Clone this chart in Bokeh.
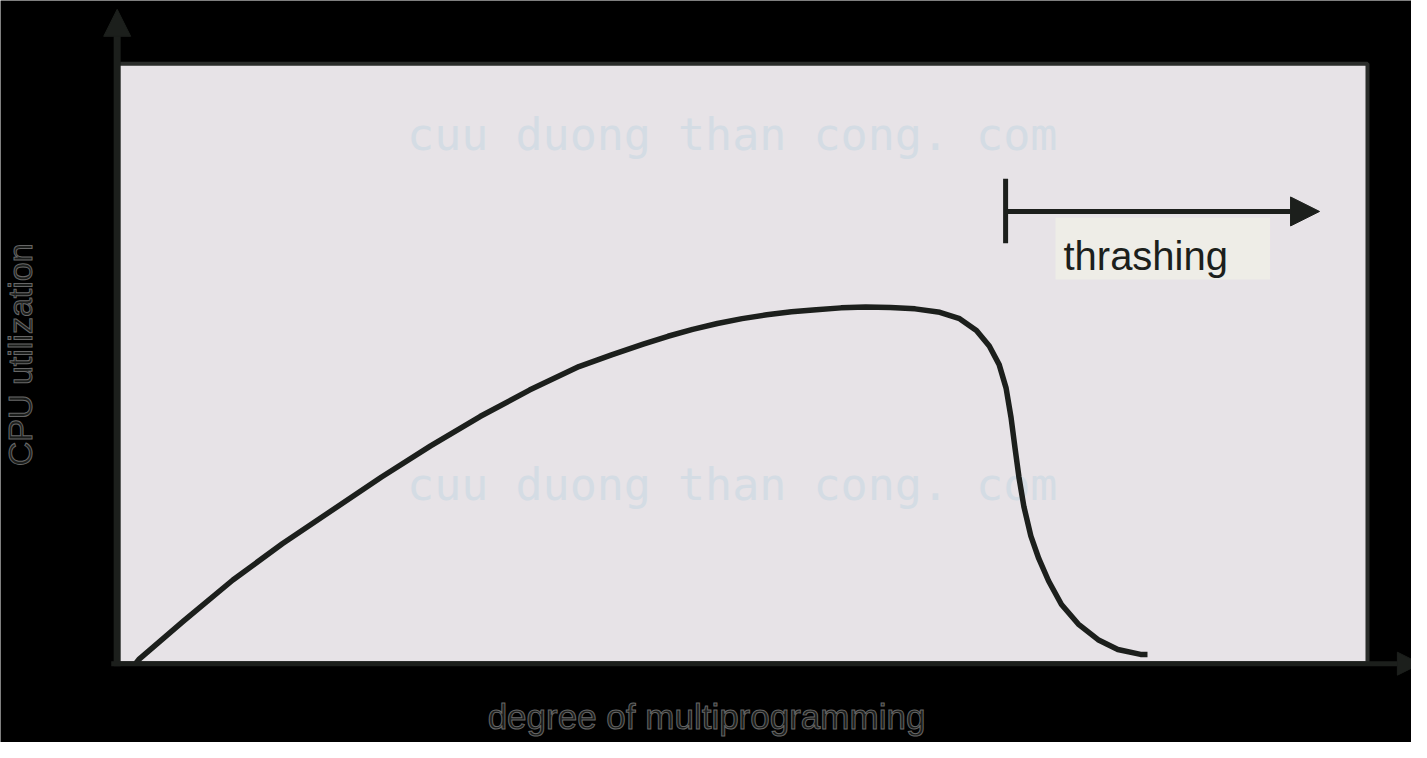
from bokeh.plotting import figure
from bokeh.models import Range1d, Arrow, NormalHead, ColumnDataSource
from bokeh.core.properties import value
from bokeh.embed import file_html
from bokeh.resources import INLINE

# ---- data (units: 1 unit = 100 px of the original drawing) ----
degree = [0.19, 0.22, 0.67, 1.17, 1.67, 2.17, 2.67, 3.17, 3.67, 4.17, 4.67, 5.00,
          5.32, 5.57, 5.82, 6.07, 6.32, 6.57, 6.82, 7.07, 7.32, 7.57, 7.82, 8.07,
          8.32, 8.52, 8.69, 8.82, 8.92, 8.99, 9.04, 9.08, 9.12, 9.17, 9.24, 9.32,
          9.42, 9.55, 9.72, 9.92, 10.12, 10.35, 10.42]
cpu_util = [0.00, 0.04, 0.43, 0.85, 1.22, 1.56, 1.90, 2.22, 2.52, 2.79, 3.03, 3.15,
            3.26, 3.34, 3.41, 3.47, 3.52, 3.56, 3.59, 3.61, 3.63, 3.64, 3.635, 3.62,
            3.585, 3.52, 3.40, 3.24, 3.05, 2.81, 2.51, 2.20, 1.90, 1.60, 1.30, 1.07,
            0.84, 0.60, 0.40, 0.24, 0.14, 0.09, 0.09]

x_label = ["degree of multiprogramming"]
y_label = ["CPU utilization"]
thrash_label = ["thrashing"]
watermark = ["cuu duong than cong. com", "cuu duong than cong. com"]

# thrashing region start / arrow end
thrash_start = 8.985
thrash_end = 12.16

# layout extents
X_MAX, Y_MAX = 12.645, 6.125

p = figure(width=1411, height=742, output_backend="svg", toolbar_location=None,
           x_axis_type=None, y_axis_type=None, min_border=0,
           x_range=Range1d(-1.18, 13.09), y_range=Range1d(-0.81, 6.77))
p.background_fill_color = "black"
p.border_fill_color = "black"
p.outline_line_color = None
p.grid.visible = False

DARK = "#1c1f1c"

# plot area
p.quad(left=[0], right=[X_MAX], bottom=[0], top=[Y_MAX],
       fill_color="#e7e3e7", line_color="#2a2c2a", line_width=4)

# watermarks
p.text(x=[6.22, 6.22], y=[5.40, 1.83], text=watermark,
       text_font=value("DejaVu Sans Mono"), text_font_size="45px",
       text_color="#d4dce4", text_align="center", text_baseline="middle")

# curve
src = ColumnDataSource(dict(x=degree, y=cpu_util))
p.line("x", "y", source=src, line_color=DARK, line_width=5.5, line_join="round")

# axes arrows
p.add_layout(Arrow(end=NormalHead(size=27, fill_color=DARK, line_color=DARK),
                   x_start=0, y_start=-0.03, x_end=0, y_end=6.68,
                   line_color=DARK, line_width=7))
p.add_layout(Arrow(end=NormalHead(size=23, fill_color=DARK, line_color=DARK),
                   x_start=-0.06, y_start=-0.005, x_end=13.18, y_end=-0.005,
                   line_color=DARK, line_width=5))

# thrashing marker
p.segment(x0=[thrash_start], y0=[4.29], x1=[thrash_start], y1=[4.95],
          line_color=DARK, line_width=5)
p.add_layout(Arrow(end=NormalHead(size=29, fill_color=DARK, line_color=DARK),
                   x_start=thrash_start, y_start=4.615, x_end=thrash_end, y_end=4.615,
                   line_color=DARK, line_width=5))
p.quad(left=[9.49], right=[11.66], bottom=[3.92], top=[4.55],
       fill_color="#eeede7", line_color=None)
p.text(x=[9.57], y=[4.165], text=thrash_label, text_font=value("Liberation Sans"),
       text_font_size="40px", text_color=DARK, text_align="left",
       text_baseline="alphabetic")

# axis labels
p.text(x=[-0.98], y=[3.15], text=y_label, angle=1.5708,
       text_font=value("Liberation Sans"), text_font_size="34px",
       text_color="#1b1d1b", text_outline_color="#666666",
       text_align="center", text_baseline="alphabetic")
p.text(x=[5.96], y=[-0.54], text=x_label,
       text_font=value("Liberation Sans"), text_font_size="35px",
       text_color="#1b1d1b", text_outline_color="#666666",
       text_align="center", text_baseline="alphabetic")

open("out.html", "w").write(file_html(p, INLINE))
